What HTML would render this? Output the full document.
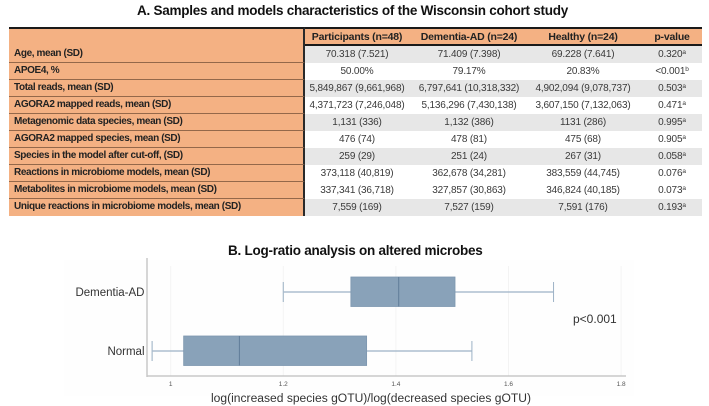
<!DOCTYPE html>
<html>
<head>
<meta charset="utf-8">
<style>
html,body{margin:0;padding:0;background:#fff;}
#page{position:relative;width:709px;height:406px;overflow:hidden;background:#fff;font-family:"Liberation Sans",sans-serif;color:#2a2a2a;}
.title{position:absolute;white-space:nowrap;font-weight:bold;color:#111;font-size:13.5px;line-height:16px;letter-spacing:-.25px;}
table{position:absolute;left:9px;top:27px;width:693px;border-collapse:separate;border-spacing:0;table-layout:fixed;font-size:10px;letter-spacing:-.16px;}
td,th{padding:0;height:16.9px;line-height:16px;text-align:center;font-weight:normal;white-space:nowrap;overflow:hidden;box-sizing:border-box;color:#3a3a3a;}
td{padding-top:2px;line-height:14.9px;}
thead th{height:19px;padding-top:1px;line-height:14px;background:#f4b183;font-weight:bold;color:#222;font-size:10.5px;letter-spacing:-.2px;border-top:2px solid #1a1a1a;border-bottom:2px solid #1a1a1a;}
th.first{text-align:left;padding-left:5px;background:#f4b183;font-weight:bold;color:#222;border-right:2px solid #2a2a2a;border-bottom:1px solid #94684a;letter-spacing:-.38px;}
thead th.first{border-bottom:2px solid #1a1a1a;}
tr.g td{background:#e7e7e7;}
tr:last-child th.first{border-bottom:none;}
td.p{padding-left:5px;}
sup{font-size:6.5px;line-height:0;vertical-align:3px;}
svg{position:absolute;left:0;top:0;}
</style>
</head>
<body>
<div id="page">
<div class="title" style="left:137px;top:3px;">A. Samples and models characteristics of the Wisconsin cohort study</div>
<table>
<colgroup><col style="width:296px"><col style="width:104px"><col style="width:120px"><col style="width:108px"><col style="width:65px"></colgroup>
<thead><tr><th class="first"></th><th>Participants (n=48)</th><th>Dementia-AD (n=24)</th><th>Healthy (n=24)</th><th class="p" style="padding-left:5px">p-value</th></tr></thead>
<tbody>
<tr class="g"><th class="first">Age, mean (SD)</th><td>70.318 (7.521)</td><td>71.409 (7.398)</td><td>69.228 (7.641)</td><td class="p">0.320<sup>a</sup></td></tr>
<tr><th class="first">APOE4, %</th><td>50.00%</td><td>79.17%</td><td>20.83%</td><td class="p">&lt;0.001<sup>b</sup></td></tr>
<tr class="g"><th class="first">Total reads, mean (SD)</th><td>5,849,867 (9,661,968)</td><td>6,797,641 (10,318,332)</td><td>4,902,094 (9,078,737)</td><td class="p">0.503<sup>a</sup></td></tr>
<tr><th class="first">AGORA2 mapped reads, mean (SD)</th><td>4,371,723 (7,246,048)</td><td>5,136,296 (7,430,138)</td><td>3,607,150 (7,132,063)</td><td class="p">0.471<sup>a</sup></td></tr>
<tr class="g"><th class="first">Metagenomic data species, mean (SD)</th><td>1,131 (336)</td><td>1,132 (386)</td><td>1131 (286)</td><td class="p">0.995<sup>a</sup></td></tr>
<tr><th class="first">AGORA2 mapped species, mean (SD)</th><td>476 (74)</td><td>478 (81)</td><td>475 (68)</td><td class="p">0.905<sup>a</sup></td></tr>
<tr class="g"><th class="first">Species in the model after cut-off, (SD)</th><td>259 (29)</td><td>251 (24)</td><td>267 (31)</td><td class="p">0.058<sup>a</sup></td></tr>
<tr><th class="first">Reactions in microbiome models, mean (SD)</th><td>373,118 (40,819)</td><td>362,678 (34,281)</td><td>383,559 (44,745)</td><td class="p">0.076<sup>a</sup></td></tr>
<tr><th class="first">Metabolites in microbiome models, mean (SD)</th><td>337,341 (36,718)</td><td>327,857 (30,863)</td><td>346,824 (40,185)</td><td class="p">0.073<sup>a</sup></td></tr>
<tr class="g"><th class="first">Unique reactions in microbiome models, mean (SD)</th><td>7,559 (169)</td><td>7,527 (159)</td><td>7,591 (176)</td><td class="p">0.193<sup>a</sup></td></tr>
</tbody>
</table>
<div class="title" style="left:228px;top:243px;">B. Log-ratio analysis on altered microbes</div>
<svg id="chart" width="709" height="406"></svg>
</div>
<script>
const categories = ["Dementia-AD", "Normal"];
const lows = [1.2, 0.967];
const q1s = [1.32, 1.023];
const medians = [1.405, 1.122];
const q3s = [1.505, 1.348];
const highs = [1.68, 1.535];
const xTicks = [1, 1.2, 1.4, 1.6, 1.8];

const NS = "http://www.w3.org/2000/svg";
const svg = document.getElementById("chart");
const left = 147, right = 626, top_ = 262, bottom = 376;
function xScale(v) { return 170.7 + (v - 1) * 563; }
function yScale(i) { return 292 + i * 59; }
function add(tag, attrs, text) {
  const el = document.createElementNS(NS, tag);
  for (const k in attrs) el.setAttribute(k, attrs[k]);
  if (text !== undefined) el.textContent = text;
  svg.appendChild(el);
  return el;
}
const fontF = '"Liberation Sans",sans-serif';

let el = add("rect", {x: 64, y: 260, width: 570, height: 136, fill: "#fefefe"});



xTicks.forEach(function (t) {
  let g = add("line", {x1: xScale(t), x2: xScale(t), y1: 266, y2: bottom, stroke: "#f3f3f3", "stroke-width": 1});
  
  
  let l = add("text", {x: xScale(t), y: 386, "text-anchor": "middle", "font-family": fontF, "font-size": 6.5, fill: "#555"}, String(t));
  
  
});

let ya = add("line", {x1: left, x2: left, y1: top_ - 4, y2: bottom + 1, stroke: "#c8c8c8", "stroke-width": 1.5});


let xa = add("line", {x1: left, x2: right, y1: bottom, y2: bottom, stroke: "#c8c8c8", "stroke-width": 1.5});



categories.forEach(function (c, i) {
  const cy = yScale(i);
  let lab = add("text", {x: 144.5, y: cy + 4, "text-anchor": "end", "font-family": fontF, "font-size": 11.5, fill: "#333"}, c);
  
  

  let w1 = add("line", {x1: xScale(lows[i]), x2: xScale(q1s[i]), y1: cy, y2: cy, stroke: "#9db2c6", "stroke-width": 1.2});
  
  
  let w2 = add("line", {x1: xScale(q3s[i]), x2: xScale(highs[i]), y1: cy, y2: cy, stroke: "#9db2c6", "stroke-width": 1.2});
  
  
  let c1 = add("line", {x1: xScale(lows[i]), x2: xScale(lows[i]), y1: cy - 10, y2: cy + 10, stroke: "#a9bbcc", "stroke-width": 1.2});
  
  
  let c2 = add("line", {x1: xScale(highs[i]), x2: xScale(highs[i]), y1: cy - 10, y2: cy + 10, stroke: "#9db2c6", "stroke-width": 1});
  
  
  let b = add("rect", {x: xScale(q1s[i]), y: cy - 15, width: xScale(q3s[i]) - xScale(q1s[i]), height: 29.5, fill: "#89a2b9", stroke: "#7d97af", "stroke-width": 0.8});
  
  
  let m = add("line", {x1: xScale(medians[i]), x2: xScale(medians[i]), y1: cy - 15, y2: cy + 14.5, stroke: "#5f7c98", "stroke-width": 1});
  
  
});

let xt = add("text", {x: 371, y: 402, "text-anchor": "middle", "font-family": fontF, "font-size": 11.5, fill: "#333", textLength: 320, lengthAdjust: "spacingAndGlyphs"}, "log(increased species gOTU)/log(decreased species gOTU)");


let pv = add("text", {x: 573, y: 323, "font-family": fontF, "font-size": 12, fill: "#333"}, "p<0.001");


</script>
</body>
</html>
